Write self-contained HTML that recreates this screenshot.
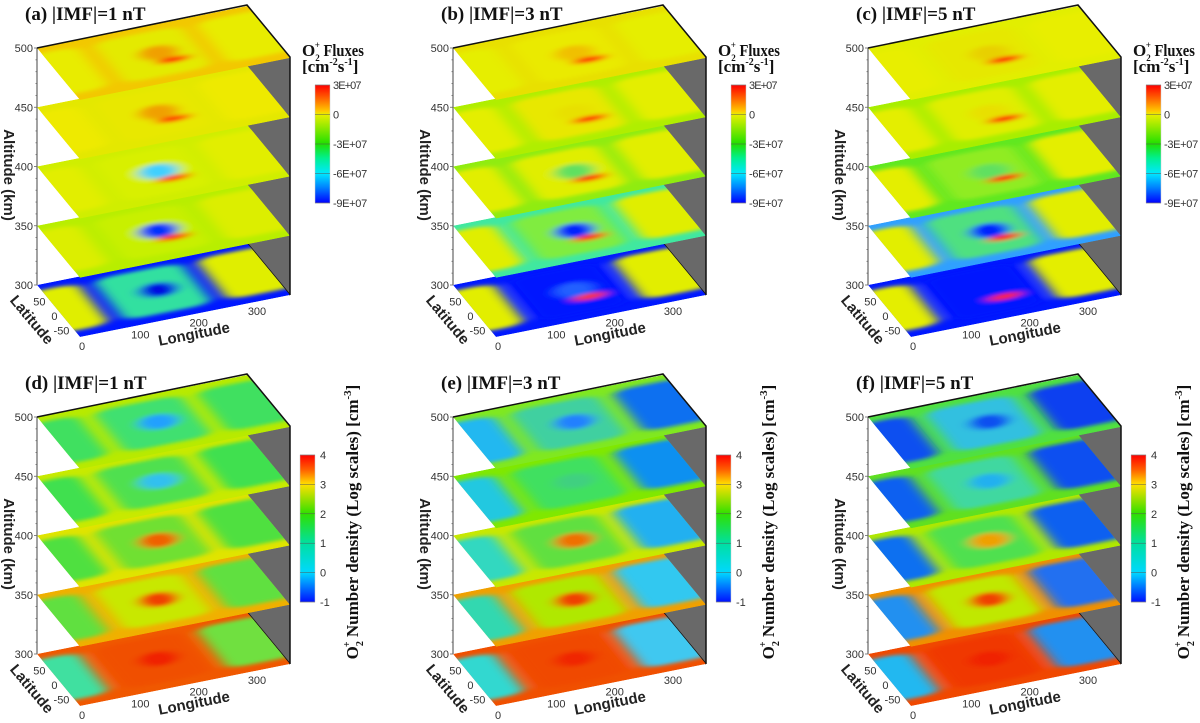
<!DOCTYPE html>
<html><head><meta charset="utf-8"><style>
html,body{margin:0;padding:0;background:#fff;}
svg{display:block;}
.tk{font-family:"Liberation Sans",Arial,sans-serif;font-size:11px;fill:#333;}
.ax{font-family:"Liberation Sans",Arial,sans-serif;font-size:15px;font-weight:bold;fill:#222;}
.tt{font-family:"Liberation Serif","Times New Roman",serif;font-size:19px;font-weight:bold;fill:#111;}
.ct{font-family:"Liberation Serif","Times New Roman",serif;font-size:17px;font-weight:bold;fill:#111;}
</style></head><body>
<svg id="fig" width="1200" height="723" viewBox="0 0 1200 723" xmlns="http://www.w3.org/2000/svg">
<defs>
<linearGradient id="gFlux" x1="0" y1="0" x2="0" y2="1">
<stop offset="0" stop-color="#ff0000"/><stop offset="0.12" stop-color="#ff6a00"/><stop offset="0.22" stop-color="#ffc800"/><stop offset="0.25" stop-color="#e8f000"/><stop offset="0.5" stop-color="#20e000"/><stop offset="0.62" stop-color="#00f090"/><stop offset="0.75" stop-color="#00e8ff"/><stop offset="0.87" stop-color="#0080ff"/><stop offset="1" stop-color="#0000ff"/>
</linearGradient>
<linearGradient id="gDens" x1="0" y1="0" x2="0" y2="1">
<stop offset="0" stop-color="#ff0000"/><stop offset="0.1" stop-color="#ff6000"/><stop offset="0.2" stop-color="#ffe000"/><stop offset="0.4" stop-color="#30e000"/><stop offset="0.6" stop-color="#00e0a0"/><stop offset="0.8" stop-color="#00d8ff"/><stop offset="1" stop-color="#0010ff"/>
</linearGradient>
<filter id="blur" x="-20%" y="-20%" width="140%" height="140%"><feGaussianBlur stdDeviation="3"/></filter>
<clipPath id="sq"><rect x="0" y="0" width="100" height="100"/></clipPath>
</defs>
</svg>
<script>
const panelNames = ['a','b','c','d','e','f'];
const panelTitles = ['(a) |IMF|=1 nT','(b) |IMF|=3 nT','(c) |IMF|=5 nT','(d) |IMF|=1 nT','(e) |IMF|=3 nT','(f) |IMF|=5 nT'];
const panelKinds = ['flux','flux','flux','dens','dens','dens'];
const altitudeTicks = [300,350,400,450,500];
const latitudeTicks = [50,0,-50];
const longitudeTicks = [0,100,200,300];
const fluxBarTicks = ['3E+07','0','-3E+07','-6E+07','-9E+07'];
const densBarTicks = ['4','3','2','1','0','-1'];
// per level (300..500): [base, cellA, cellB, cellC, center, hotspot]
const levelsA = [
 ['#0018ff','#e0ee00','#30e0a0','#e0ee00','#0010e0',null],
 ['#b8ee00','#dcee00','#c8f000','#dcee00','#0030ff','#ff3000'],
 ['#d0ee00','#e2ee00','#d8f000','#e2ee00','#40d0ff','#ff4000'],
 ['#e4e800','#eeea00','#e8e800','#eeea00','#f0a000','#ff3000'],
 ['#f2c800','#e8ec00','#e4ea00','#e8ec00','#f0a000','#ff2000']];
const levelsB = [
 ['#0018ff','#e2ee00','#0018ff','#e2ee00','#2060ff','#ff3000'],
 ['#40e8a0','#e0ee00','#80ec40','#e0ee00','#0020ff','#ff2000'],
 ['#90ec10','#e2ee00','#e0ee00','#e2ee00','#60e060','#ff2000'],
 ['#b0ee00','#e4ee00','#e8e800','#e4ee00','#e8e000','#ff2000'],
 ['#e8e000','#e6ee00','#eaea00','#e6ee00','#f0c000','#ff2000']];
const levelsC = [
 ['#0018ff','#e4ee00','#0018ff','#e4ee00','#0018ff','#ff2000'],
 ['#30a0ff','#e2ee00','#50e080','#e2ee00','#0020ff','#ff1000'],
 ['#60e820','#e4ee00','#90ec20','#e4ee00','#60e060','#ff1000'],
 ['#a8ee00','#e4ee00','#e0ee00','#e4ee00','#e8e000','#ff1000'],
 ['#e2ee00','#e8ee00','#e6e800','#e8ee00','#e8d000','#ff1000']];
const levelsD = [
 ['#f05800','#40e0a0','#f05000','#70e040','#f02000',null],
 ['#f0b000','#60e040','#c8e800','#60e040','#f04000',null],
 ['#e0e400','#50e040','#70e030','#50e040','#f06000',null],
 ['#c8ea00','#40e050','#50e050','#40e050','#30c0f0',null],
 ['#b8ea00','#40e060','#40e070','#40e060','#20a0ff',null]];
const levelsE = [
 ['#f05000','#30d8d0','#f04800','#40c8f0','#f02800',null],
 ['#f0a000','#30d8b0','#b0e800','#30c8f0','#f04000',null],
 ['#c8e800','#30d8c0','#60e040','#20b0f0','#f07000',null],
 ['#80e800','#20c8e0','#40e060','#1090f0','#40d080',null],
 ['#80e820','#20b8f0','#40d0a0','#1070f0','#2080ff',null]];
const levelsF = [
 ['#f04800','#20b8f0','#f03800','#2090f0','#f02000',null],
 ['#f09000','#2090f0','#c0e800','#2070f0','#f04000',null],
 ['#b0e800','#1070f0','#50e050','#1060f0','#f0a000',null],
 ['#60e020','#1060f0','#40d8a0','#1050f0','#20b0f0',null],
 ['#50e040','#1050f0','#30c0e0','#1040f0','#1050f0',null]];
const panelLevels = [levelsA, levelsB, levelsC, levelsD, levelsE, levelsF];

const NS = 'http://www.w3.org/2000/svg';
const fig = document.getElementById('fig');
function mk(tag, attrs, parent) {
  const e = document.createElementNS(NS, tag);
  for (const k in attrs) e.setAttribute(k, attrs[k]);
  (parent || fig).appendChild(e);
  return e;
}
function txt(str, x, y, cls, anchor, parent) {
  const t = mk('text', {x: x, y: y, class: cls, 'text-anchor': anchor || 'start'}, parent);
  t.textContent = str;
  return t;
}
const LEVEL_DY = 59.25;
function altY(alt) { return 285 - (alt - 300) / 50 * LEVEL_DY; }
function lonPt(lon) { return [80 + 210 * lon / 360, 337 - 42 * lon / 360]; }
function latPt(lat) { const v = (lat + 90) / 180; return [80 - 43 * v, 337 - 52 * v]; }

for (let p = 0; p < 6; p++) {
  const ox = [0, 416, 831][p % 3];
  const oy = p < 3 ? 0 : 369;
  const g = mk('g', {transform: 'translate(' + ox + ',' + oy + ')'});
  
  
  const title = txt(panelTitles[p], 25, 20, 'tt', 'start', g);
  
  
  const wall = mk('polygon', {points: '247,5 290,57 290,295 247,243', fill: '#696969'}, g);
  
  
  mk('line', {x1: 247, y1: 5, x2: 247, y2: 243, stroke: '#111', 'stroke-width': 1}, g);
  mk('line', {x1: 247, y1: 243, x2: 290, y2: 295, stroke: '#111', 'stroke-width': 1.5}, g);
  const axis = mk('line', {x1: 37, y1: altY(500), x2: 37, y2: altY(300), stroke: '#444', 'stroke-width': 1}, g);
  
  
  for (let a = 300; a <= 500; a += 10) {
    mk('line', {x1: a % 50 === 0 ? 34 : 35.5, y1: altY(a), x2: 37, y2: altY(a), stroke: '#666', 'stroke-width': 0.8}, g);
  }
  altitudeTicks.forEach(a => {
    const t = txt(String(a), 33, altY(a) + 4, 'tk', 'end', g);
    
    
  });
  const levels = panelLevels[p];
  for (let k = 0; k < 5; k++) {
    const L = levels[k];
    const sg = mk('g', {transform: 'matrix(2.1,-0.42,-0.43,-0.52,80,' + (337 - LEVEL_DY * k) + ')'}, g);
    
    
    const cg = mk('g', {'clip-path': 'url(#sq)'}, sg);
    mk('rect', {x: 0, y: 0, width: 100, height: 100, fill: L[0]}, cg);
    const bg = mk('g', {filter: 'url(#blur)'}, cg);
    mk('rect', {x: -8, y: 12, width: 25, height: 78, rx: 9, fill: L[1]}, bg);
    mk('rect', {x: 24, y: 12, width: 42, height: 78, rx: 9, fill: L[2]}, bg);
    mk('rect', {x: 73, y: 12, width: 35, height: 78, rx: 9, fill: L[3]}, bg);
    mk('ellipse', {cx: 48, cy: 52, rx: 9, ry: 13, fill: L[4]}, bg);
    if (L[5]) mk('ellipse', {cx: 52, cy: 36, rx: 8, ry: 5, fill: L[5]}, bg);
  }
  const top = altY(500);
  mk('polyline', {points: '37,' + top + ' 247,5 290,57 290,295', fill: 'none', stroke: '#111', 'stroke-width': 1.5}, g);
  latitudeTicks.forEach(l => {
    const pt = latPt(l);
    const t = txt(String(l), pt[0] - 1, pt[1] + 9, 'tk', 'end', g);
    
    
  });
  longitudeTicks.forEach(l => {
    const pt = lonPt(l);
    const t = txt(String(l), pt[0] + 2, pt[1] + 13, 'tk', 'middle', g);
    
    
  });
  const lt = txt('Latitude', 0, 0, 'ax', 'middle', g);
  lt.setAttribute('transform', 'translate(28,323) rotate(50)');
  
  
  const lo = txt('Longitude', 0, 0, 'ax', 'middle', g);
  lo.setAttribute('transform', 'translate(195,339) rotate(-11)');
  
  
  const al = txt('Altitude (km)', 0, 0, 'ax', 'middle', g);
  al.setAttribute('transform', 'translate(4,175) rotate(90)');
  
  
  if (panelKinds[p] === 'flux') {
    const cb = mk('rect', {x: 315, y: 85, width: 15, height: 118, fill: 'url(#gFlux)', stroke: '#ccc', 'stroke-width': 0.5}, g);
    
    
    fluxBarTicks.forEach((s, i) => {
      const y = 85 + i * 118 / (fluxBarTicks.length - 1);
      mk('line', {x1: 315, y1: y, x2: 330, y2: y, stroke: '#555', 'stroke-width': 0.5}, g);
      const t = txt(s, 333, y + 4, 'tk', 'start', g);
      t.setAttribute('textLength', s.length > 2 ? (s.length * 5.7).toFixed(1) : 6);
      
      
    });
    const c1 = mk('text', {x: 302, y: 56, class: 'ct'}, g);
    c1.innerHTML = 'O<tspan dy="5" font-size="9">2</tspan><tspan dx="-5" dy="-13" font-size="9">+</tspan><tspan dy="8" textLength="44" lengthAdjust="spacingAndGlyphs"> Fluxes</tspan>';
    
    
    const c2 = mk('text', {x: 302, y: 72, class: 'ct'}, g);
    c2.innerHTML = '[cm<tspan dy="-7" font-size="10">-2</tspan><tspan dy="7">s</tspan><tspan dy="-7" font-size="10">-1</tspan><tspan dy="7">]</tspan>';
    
    
  } else {
    const cb = mk('rect', {x: 300, y: 86, width: 15, height: 147, fill: 'url(#gDens)', stroke: '#ccc', 'stroke-width': 0.5}, g);
    
    
    densBarTicks.forEach((s, i) => {
      const y = 86 + i * 147 / (densBarTicks.length - 1);
      mk('line', {x1: 300, y1: y, x2: 315, y2: y, stroke: '#555', 'stroke-width': 0.5}, g);
      const t = txt(s, 320, y + 4, 'tk', 'start', g);
      
      
    });
    const c1 = mk('text', {x: 0, y: 0, class: 'ct', 'text-anchor': 'middle', transform: 'translate(358,153) rotate(-90)'}, g);
    c1.innerHTML = 'O<tspan dy="5" font-size="10">2</tspan><tspan dx="-6" dy="-13" font-size="10">+</tspan><tspan dy="8"> Number density (Log scales) [cm</tspan><tspan dy="-7" font-size="11">-3</tspan><tspan dy="7">]</tspan>';
    
    
  }
}
</script>
</body></html>
